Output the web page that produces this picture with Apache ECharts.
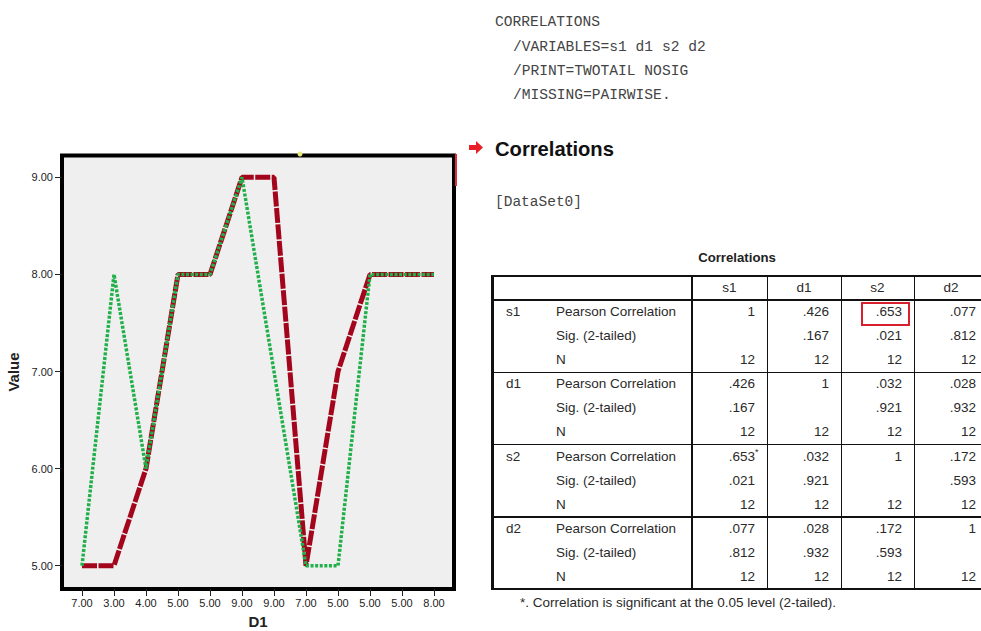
<!DOCTYPE html>
<html><head><meta charset="utf-8">
<script src="https://cdn.jsdelivr.net/npm/echarts@6/dist/echarts.min.js"></script>
<style>
html,body{margin:0;padding:0;width:981px;height:631px;overflow:hidden;background:#fff;}
body{position:relative;font-family:'Liberation Sans',Arial,sans-serif;color:#333;}
.abs{position:absolute;white-space:nowrap;}
.mono{font-family:'Liberation Mono','Courier New',monospace;font-size:14.6px;line-height:18px;color:#444;}
#chart{position:absolute;left:0;top:0;width:470px;height:631px;}
.cell{position:absolute;height:24px;line-height:24px;font-size:13.5px;white-space:nowrap;color:#2a2a2a;box-sizing:border-box;}
.ln{position:absolute;background:#111;}
.star{display:inline-block;width:0;font-size:9px;line-height:9px;vertical-align:top;margin-top:3px;}
</style></head><body>
<div id="chart"></div>

<div class="abs mono" style="left:495px;top:13px;">CORRELATIONS</div>
<div class="abs mono" style="left:513px;top:38px;">/VARIABLES=s1 d1 s2 d2</div>
<div class="abs mono" style="left:513px;top:62px;">/PRINT=TWOTAIL NOSIG</div>
<div class="abs mono" style="left:513px;top:86px;">/MISSING=PAIRWISE.</div>

<svg class="abs" style="left:469px;top:141px;" width="15" height="13" viewBox="0 0 15 13">
  <polygon points="0,4 7,4 7,0 14,6.5 7,13 7,9 0,9" fill="#e8202a"/>
</svg>
<div class="abs" style="left:495px;top:137px;font-size:20.2px;line-height:24px;font-weight:bold;color:#111;">Correlations</div>
<div class="abs mono" style="left:495px;top:193px;font-size:14.5px;">[DataSet0]</div>

<div class="abs" style="left:637px;top:246px;width:200px;text-align:center;font-size:13.2px;line-height:24px;font-weight:bold;color:#222;">Correlations</div>
<div id="table"></div>
<div class="abs" style="left:520px;top:591px;font-size:13.5px;line-height:24px;color:#2a2a2a;">*. Correlation is significant at the 0.05 level (2-tailed).</div>

<script>
// ---------- chart data ----------
const categories = ['7.00','3.00','4.00','5.00','5.00','9.00','9.00','7.00','5.00','5.00','5.00','8.00'];
const redValues = [5, 5, 6, 8, 8, 9, 9, 5, 7, 8, 8, 8];
const greenValues = [5, 8, 6, 8, 8, 9, 7, 5, 5, 8, 8, 8];
const yTicks = [5, 6, 7, 8, 9];

// ---------- table data ----------
const variables = ['s1', 'd1', 's2', 'd2'];
const statLabels = ['Pearson Correlation', 'Sig. (2-tailed)', 'N'];
const pearson = [
  [1, .426, .653, .077],
  [.426, 1, .032, .028],
  [.653, .032, 1, .172],
  [.077, .028, .172, 1]
];
const sig = [
  [null, .167, .021, .812],
  [.167, null, .921, .932],
  [.021, .921, null, .593],
  [.812, .932, .593, null]
];
const nValues = [
  [12, 12, 12, 12],
  [12, 12, 12, 12],
  [12, 12, 12, 12],
  [12, 12, 12, 12]
];
const starred = [[2, 0]];          // row, col with significance mark
const boxed = [[0, 2]];            // highlighted cell

// ---------- chart ----------
const chart = echarts.init(document.getElementById('chart'), null, {renderer: 'svg'});
const font = "'Liberation Sans', Arial, sans-serif";
chart.setOption({
  animation: false,
  grid: {left: 66, top: 155, width: 384, height: 434, show: false, containLabel: false, outerBoundsMode: 'none'},
  graphic: {elements: [
    {type: 'rect', z: -10, shape: {x: 62, y: 155.5, width: 392, height: 433.5},
     style: {fill: '#efefef', stroke: '#000', lineWidth: 4}},
    {type: 'line', z: -9, shape: {x1: 456, y1: 154, x2: 456, y2: 186},
     style: {stroke: '#e52a3c', lineWidth: 2}},
    {type: 'circle', z: -9, shape: {cx: 300, cy: 154, r: 2.5}, style: {fill: '#e6e67a'}}
  ]},
  xAxis: {
    type: 'category', data: categories, boundaryGap: true,
    axisLine: {show: false},
    axisTick: {show: true, alignWithLabel: true, length: 7, lineStyle: {color: '#222', width: 1}},
    axisLabel: {interval: 0, margin: 8, fontSize: 11, color: '#222', fontFamily: font},
    name: 'D1', nameLocation: 'middle', nameGap: 24,
    nameTextStyle: {fontWeight: 'bold', fontSize: 15, lineHeight: 16, color: '#222', fontFamily: font}
  },
  yAxis: {
    type: 'value', min: 4.76, max: 9.23, offset: 4,
    axisLine: {show: false}, splitLine: {show: false},
    axisTick: {show: true, length: 7, customValues: yTicks, lineStyle: {color: '#222', width: 1}},
    axisLabel: {customValues: yTicks, formatter: v => v.toFixed(2), margin: 9, fontSize: 11, color: '#222', fontFamily: font},
    name: 'Value', nameLocation: 'middle', nameGap: 37,
    nameTextStyle: {fontWeight: 'bold', fontSize: 15, color: '#222', fontFamily: font}
  },
  series: [
    {name: 's1', type: 'line', data: redValues, symbol: 'none',
     lineStyle: {color: '#a3061c', width: 5, type: [15, 1.5]}, z: 2},
    {name: 's2', type: 'line', data: greenValues, symbol: 'none',
     lineStyle: {color: '#1fb04a', width: 3.5, type: [3, 1.6]}, z: 3}
  ]
});

// ---------- table ----------
(function buildTable() {
  const host = document.getElementById('table');
  const colLeft = [692, 767, 841, 914];
  const colW = [75, 74, 73, 74];
  const top0 = 276, headH = 24, groupH = 72.25, rowH = 24.08;
  const fmt = v => v === null ? '' : (v === 1 ? '1' : (Number.isInteger(v) ? String(v) : v.toFixed(3).replace(/^0/, '')));
  let html = '';
  const addCell = (left, top, width, text, align, extra) => {
    html += `<div class="cell" style="left:${left}px;top:${top}px;width:${width}px;text-align:${align};${extra || ''}">${text}</div>`;
  };
  variables.forEach((v, j) => addCell(colLeft[j], top0, colW[j], v, 'center'));
  variables.forEach((rv, i) => {
    const gTop = top0 + headH + i * groupH;
    addCell(492, gTop, 60, rv, 'left', 'padding-left:14px;');
    statLabels.forEach((lab, r) => {
      const y = gTop + r * rowH;
      addCell(556, y, 136, lab, 'left');
      variables.forEach((cv, j) => {
        const mat = r === 0 ? pearson : (r === 1 ? sig : nValues);
        let txt = fmt(mat[i][j]);
        if (r === 0 && starred.some(s => s[0] === i && s[1] === j)) txt += '<span class="star">*</span>';
        addCell(colLeft[j], y, colW[j], txt, 'right', 'padding-right:12px;');
      });
    });
  });
  const hline = (y, h) => html += `<div class="ln" style="left:491px;top:${y}px;width:495px;height:${h}px;"></div>`;
  const vline = (x, w) => html += `<div class="ln" style="left:${x}px;top:275px;width:${w}px;height:315px;"></div>`;
  hline(275, 2);
  hline(top0 + headH - 1, 2);
  for (let g = 1; g < 4; g++) hline(top0 + headH + g * groupH - 0.75, 1.5);
  hline(top0 + headH + 4 * groupH - 1, 2);
  vline(491, 2.5);
  vline(691, 2);
  vline(766.5, 1.5); vline(840.5, 1.5); vline(913.5, 1.5);
  boxed.forEach(([i, j]) => {
    const y = top0 + headH + i * groupH + 2;
    html += `<div class="abs" style="left:${colLeft[j] + 20}px;top:${y}px;width:49px;height:24px;border:2px solid #d8202c;box-sizing:border-box;"></div>`;
  });
  host.innerHTML = html;
})();
</script>
</body></html>
